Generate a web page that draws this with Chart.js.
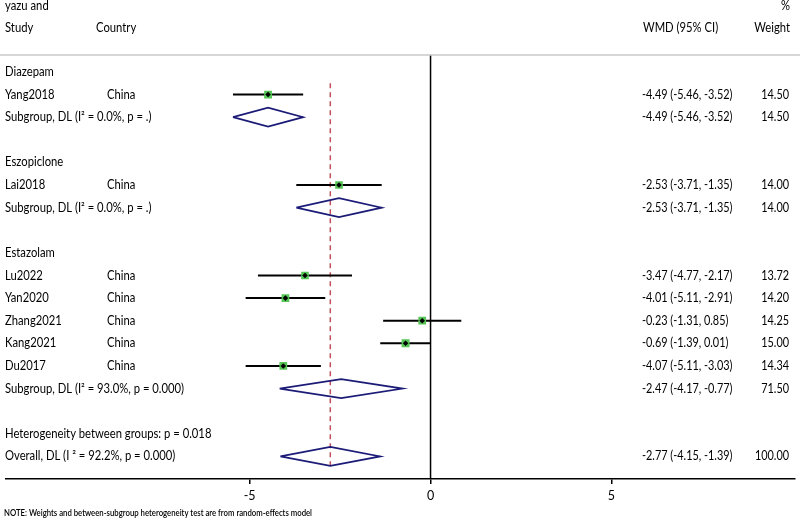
<!DOCTYPE html>
<html><head><meta charset="utf-8">
<script src="https://cdn.jsdelivr.net/npm/chart.js@4"></script>
<style>html,body{margin:0;padding:0;background:#fff;}canvas{display:block;}</style>
</head><body>
<canvas id="c" width="800" height="522"></canvas>
<script>
// ---- data ----
const groupNames = ['Diazepam', 'Eszopiclone', 'Estazolam'];
const studies   = ['Yang2018', 'Lai2018', 'Lu2022', 'Yan2020', 'Zhang2021', 'Kang2021', 'Du2017'];
const countries = ['China', 'China', 'China', 'China', 'China', 'China', 'China'];
const studyGroup = [0, 1, 2, 2, 2, 2, 2];
const est  = [-4.49, -2.53, -3.47, -4.01, -0.23, -0.69, -4.07];
const lo   = [-5.46, -3.71, -4.77, -5.11, -1.31, -1.39, -5.11];
const hi   = [-3.52, -1.35, -2.17, -2.91,  0.85,  0.01, -3.03];
const weights = [14.50, 14.00, 13.72, 14.20, 14.25, 15.00, 14.34];
const subLabels = ['Subgroup, DL (I\u00B2 = 0.0%, p = .)', 'Subgroup, DL (I\u00B2 = 0.0%, p = .)', 'Subgroup, DL (I\u00B2 = 93.0%, p = 0.000)'];
const subEst = [-4.49, -2.53, -2.47];
const subLo  = [-5.46, -3.71, -4.17];
const subHi  = [-3.52, -1.35, -0.77];
const subW   = [14.50, 14.00, 71.50];
const hetText = 'Heterogeneity between groups: p = 0.018';
const overallLabel = 'Overall, DL (I \u00B2 = 92.2%, p = 0.000)';
const overallEst = -2.77, overallLo = -4.15, overallHi = -1.39, overallW = 100.00;
const xTicks = [-5, 0, 5];
const noteText = 'NOTE: Weights and between-subgroup heterogeneity test are from random-effects model';

// ---- build rows ----
const rows = [];
let r = 0;
groupNames.forEach((g, gi) => {
  rows.push({type: 'head', label: g, y: r++});
  studies.forEach((s, i) => {
    if (studyGroup[i] === gi) rows.push({type: 'study', label: s, country: countries[i], e: est[i], l: lo[i], h: hi[i], w: weights[i], y: r++});
  });
  rows.push({type: 'sub', label: subLabels[gi], e: subEst[gi], l: subLo[gi], h: subHi[gi], w: subW[gi], y: r++});
  r++;
});
rows.push({type: 'het', label: hetText, y: r++});
rows.push({type: 'sub', label: overallLabel, e: overallEst, l: overallLo, h: overallHi, w: overallW, y: r++});
const yMax = r;

const fmt = v => v.toFixed(2);
const datasets = [];
const DH = 0.42;
rows.forEach(row => {
  if (row.type === 'study') {
    datasets.push({type: 'line', data: [{x: row.l, y: row.y}, {x: row.h, y: row.y}], borderColor: '#000', borderWidth: 2, pointRadius: 0, order: 5});
  } else if (row.type === 'sub') {
    datasets.push({type: 'line', data: [{x: row.l, y: row.y}, {x: row.e, y: row.y - DH}, {x: row.h, y: row.y}, {x: row.e, y: row.y + DH}, {x: row.l, y: row.y}],
      borderColor: '#1c1c78', borderWidth: 1.7, pointRadius: 0, fill: false, tension: 0, order: 4});
  }
});
const studyRows = rows.filter(x => x.type === 'study');
datasets.push({type: 'scatter', data: studyRows.map(x => ({x: x.e, y: x.y})), pointStyle: 'rect',
  pointRadius: studyRows.map(x => 5.5 * Math.sqrt(x.w / 14.5)), backgroundColor: '#55c655', borderWidth: 0, order: 2});
datasets.push({type: 'scatter', data: studyRows.map(x => ({x: x.e, y: x.y})), pointStyle: 'rectRot',
  pointRadius: 2.8, backgroundColor: '#000', borderWidth: 0, order: 1});
const firstStudyY = studyRows[0].y;
datasets.push({type: 'line', data: [{x: overallEst, y: firstStudyY - 0.5}, {x: overallEst, y: yMax - 1 + DH}],
  borderColor: '#c0505c', borderWidth: 1.5, borderDash: [5, 4], pointRadius: 0, order: 9});
datasets.push({type: 'line', data: [{x: 0, y: -0.75}, {x: 0, y: yMax}], borderColor: '#000', borderWidth: 1.5, pointRadius: 0, order: 10, clip: false});

const FONT = 'Lato, "Open Sans", sans-serif';
function txt(ctx, s, x, y, f) {
  const w = ctx.measureText(s).width;
  ctx.fillText(s, x, y, w * f);
}
const FL = 0.9, FN = 0.9;
const textPlugin = {
  id: 'forestText',
  afterDraw(chart) {
    const ctx = chart.ctx, ys = chart.scales.y;
    ctx.save();
    ctx.fillStyle = '#000';
    ctx.textBaseline = 'middle';
    ctx.font = '12.5px ' + FONT;
    ctx.textAlign = 'left';
    txt(ctx, 'yazu and', 5, 6, FL);
    txt(ctx, 'Study', 5, 28, FL);
    txt(ctx, 'Country', 96, 28, FL);
    txt(ctx, 'WMD (95% CI)', 643, 28, FL);
    ctx.textAlign = 'right';
    txt(ctx, '%', 790, 6, FL);
    txt(ctx, 'Weight', 790, 28, FL);
    ctx.strokeStyle = '#c8c8c8'; ctx.lineWidth = 1.5;
    ctx.beginPath(); ctx.moveTo(0, 55); ctx.lineTo(800, 55); ctx.stroke();
    rows.forEach(row => {
      const py = ys.getPixelForValue(row.y);
      ctx.textAlign = 'left';
      txt(ctx, row.label, 5, py, row.type === 'sub' ? FN : FL);
      if (row.country) txt(ctx, row.country, 107, py, FL);
      if (row.e !== undefined) {
        txt(ctx, fmt(row.e) + ' (' + fmt(row.l) + ', ' + fmt(row.h) + ')', 642, py, 0.87);
        ctx.textAlign = 'right';
        txt(ctx, fmt(row.w), 789, py, 0.87);
      }
    });
    ctx.textAlign = 'left';
    ctx.font = '600 9.5px ' + FONT;
    ctx.fillText(noteText, 4, 513, 308);
    ctx.restore();
  }
};

new Chart(document.getElementById('c'), {
  data: {datasets},
  options: {
    responsive: false, animation: false, devicePixelRatio: 1,
    layout: {padding: {top: 55, left: 0, right: 0, bottom: 0}},
    plugins: {legend: {display: false}, tooltip: {enabled: false}},
    scales: {
      x: {type: 'linear', min: -11.744, max: 10.056,
        afterBuildTicks: s => { s.ticks = xTicks.map(v => ({value: v})); },
        afterFit: s => { s.height = 43; },
        grid: {display: true, drawOnChartArea: false, drawTicks: true, tickLength: 5, color: '#000', lineWidth: 1.5},
        border: {display: true, color: '#000', width: 1.5},
        ticks: {color: '#000', font: {family: FONT, size: 12.5}, padding: 4, maxRotation: 0, callback: v => String(v)}
      },
      y: {type: 'linear', display: false, reverse: true, min: -0.75, max: yMax}
    }
  },
  plugins: [textPlugin]
});
</script>
</body></html>
